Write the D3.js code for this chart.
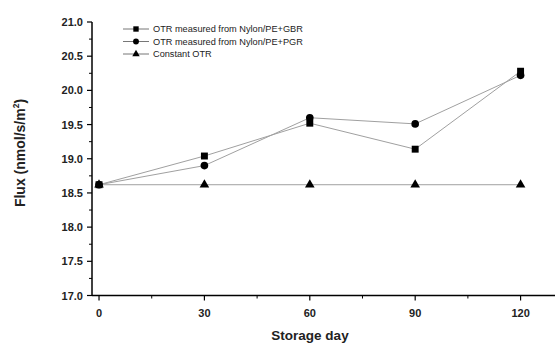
<!DOCTYPE html>
<html>
<head>
<meta charset="utf-8">
<script src="https://cdn.jsdelivr.net/npm/d3@7"></script>
<style>
  body { margin: 0; background: #fff; }
  text { font-family: Arial, "Liberation Sans", sans-serif; }
</style>
</head>
<body>
<svg id="chart" width="555" height="345"></svg>
<script>
const days = [0, 30, 60, 90, 120];
const gbrValues = [18.62, 19.04, 19.52, 19.14, 20.28];
const pgrValues = [18.62, 18.90, 19.60, 19.51, 20.22];
const constValues = [18.62, 18.62, 18.62, 18.62, 18.62];
const seriesNames = [
    'OTR measured from Nylon/PE+GBR',
    'OTR measured from Nylon/PE+PGR',
    'Constant OTR',
];
const xTicks = [0, 30, 60, 90, 120];
const yTicks = [17.0, 17.5, 18.0, 18.5, 19.0, 19.5, 20.0, 20.5, 21.0];

const svg = d3.select('#chart');
const margin = {left: 92, top: 22, right: 0, bottom: 49};
const width = 555, height = 345;

const xScale = d3.scaleLinear()
    .domain([-2, 129.8])
    .range([margin.left, width - margin.right]);
const yScale = d3.scaleLinear()
    .domain([17, 21])
    .range([height - margin.bottom - 0.5, margin.top]);

// x axis
const xAxis = svg.append('g')
    .attr('transform', `translate(0,${yScale(17)})`);
xAxis.append('line')
    .attr('x1', margin.left).attr('x2', width)
    .attr('stroke', '#000').attr('stroke-width', 1.5);
xAxis.selectAll('.minor')
    .data(d3.range(15, 130, 30))
    .enter().append('line')
    .attr('x1', d => xScale(d)).attr('x2', d => xScale(d))
    .attr('y1', 0).attr('y2', 3)
    .attr('stroke', '#000').attr('stroke-width', 1);
xAxis.selectAll('.major')
    .data(xTicks)
    .enter().append('line')
    .attr('x1', d => xScale(d)).attr('x2', d => xScale(d))
    .attr('y1', 0).attr('y2', 5)
    .attr('stroke', '#000').attr('stroke-width', 1.2);
xAxis.selectAll('.lbl')
    .data(xTicks)
    .enter().append('text')
    .attr('x', d => xScale(d)).attr('y', 21)
    .attr('text-anchor', 'middle')
    .attr('font-size', 11).attr('font-weight', 'bold')
    .attr('fill', '#222')
    .text(d => d);

// y axis
const yAxis = svg.append('g')
    .attr('transform', `translate(${margin.left},0)`);
yAxis.append('line')
    .attr('y1', yScale(17)).attr('y2', yScale(21))
    .attr('stroke', '#000').attr('stroke-width', 1.5);
yAxis.selectAll('.minor')
    .data(d3.range(17.25, 21, 0.5))
    .enter().append('line')
    .attr('y1', d => yScale(d)).attr('y2', d => yScale(d))
    .attr('x1', 0).attr('x2', -3)
    .attr('stroke', '#000').attr('stroke-width', 1);
yAxis.selectAll('.major')
    .data(yTicks)
    .enter().append('line')
    .attr('y1', d => yScale(d)).attr('y2', d => yScale(d))
    .attr('x1', 0).attr('x2', -5)
    .attr('stroke', '#000').attr('stroke-width', 1.2);
yAxis.selectAll('.lbl')
    .data(yTicks)
    .enter().append('text')
    .attr('x', -9).attr('y', d => yScale(d) + 4)
    .attr('text-anchor', 'end')
    .attr('font-size', 11).attr('font-weight', 'bold')
    .attr('fill', '#222')
    .text(d => d.toFixed(1));

// titles
svg.append('text')
    .attr('x', 310).attr('y', 340)
    .attr('text-anchor', 'middle')
    .attr('font-size', 13.5).attr('font-weight', 'bold')
    .attr('fill', '#222')
    .text('Storage day');
const yTitle = svg.append('text')
    .attr('transform', 'translate(25,153) rotate(-90)')
    .attr('text-anchor', 'middle')
    .attr('font-size', 14).attr('font-weight', 'bold')
    .attr('fill', '#222');
yTitle.append('tspan').text('Flux (nmol/s/m');
yTitle.append('tspan').attr('font-size', 8.5).attr('dy', -6).text('2');
yTitle.append('tspan').attr('dy', 6).text(')');

// series
const series = [
    {name: seriesNames[0], values: gbrValues, shape: d3.symbolSquare, size: 48},
    {name: seriesNames[1], values: pgrValues, shape: d3.symbolCircle, size: 46},
    {name: seriesNames[2], values: constValues, shape: d3.symbolTriangle, size: 40},
];

const line = d3.line()
    .x((d, i) => xScale(days[i]))
    .y(d => yScale(d));

series.forEach(s => {
    svg.append('path')
        .datum(s.values)
        .attr('d', line)
        .style('fill', 'none')
        .style('stroke', '#a0a0a0')
        .style('stroke-width', 1);
});
series.forEach(s => {
    svg.selectAll(null)
        .data(s.values)
        .enter().append('path')
        .attr('d', d3.symbol().type(s.shape).size(s.size))
        .attr('transform', (d, i) => `translate(${xScale(days[i])},${yScale(d)})`)
        .style('fill', '#000');
});

// legend
const legend = svg.append('g').attr('transform', 'translate(123,29)');
series.forEach((s, i) => {
    const row = legend.append('g').attr('transform', `translate(0,${i * 12.5})`);
    row.append('line')
        .attr('x1', 0).attr('x2', 26)
        .attr('stroke', '#777').attr('stroke-width', 1);
    row.append('path')
        .attr('d', d3.symbol().type(s.shape).size(s.size * 0.6))
        .attr('transform', 'translate(13,0)')
        .style('fill', '#000');
    row.append('text')
        .attr('x', 30).attr('y', 3)
        .attr('font-size', 9.2)
        .attr('fill', '#222')
        .text(s.name);
});
</script>
</body>
</html>
